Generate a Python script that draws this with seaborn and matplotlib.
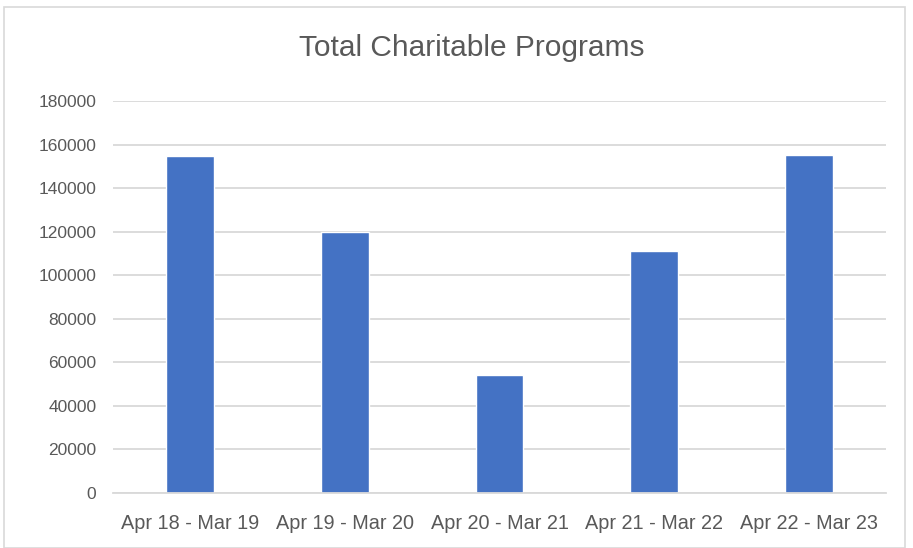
import seaborn as sns
import matplotlib.pyplot as plt
import pandas as pd

periods = ["Apr 18 - Mar 19", "Apr 19 - Mar 20", "Apr 20 - Mar 21",
           "Apr 21 - Mar 22", "Apr 22 - Mar 23"]
totals = [154600, 119800, 54300, 111000, 155100]
y_ticks = [0, 20000, 40000, 60000, 80000, 100000, 120000, 140000, 160000, 180000]

df = pd.DataFrame({"period": periods, "total": totals})

sns.set_style("white")
plt.rcParams['font.family'] = ['Liberation Sans', 'DejaVu Sans']

fig = plt.figure(figsize=(9.13, 5.48), dpi=100)
ax = fig.add_axes([113 / 913, 1 - 493 / 548, (886 - 113) / 913, (493 - 101) / 548])

ax.grid(axis='y', color='#d9d9d9', linewidth=1.3, zorder=0)
ax.set_axisbelow(True)

sns.barplot(data=df, x="period", y="total", color="#4472C4", saturation=1,
            width=0.31, ax=ax, zorder=2)

ax.set_ylim(0, 180000)
ax.set_yticks(y_ticks)
ax.set_yticklabels([str(t) for t in y_ticks], fontsize=12.5, color='#595959')
ax.tick_params(axis='x', labelsize=14.3, labelcolor='#595959', length=0, pad=15)
ax.tick_params(axis='y', length=0, pad=12)
ax.set_xlabel("")
ax.set_ylabel("")
for s in ["top", "right", "left"]:
    ax.spines[s].set_visible(False)
ax.spines["bottom"].set_color('#d9d9d9')
ax.spines["bottom"].set_linewidth(1.3)

fig.text(472 / 913, 1 - 48 / 548, "Total Charitable Programs", ha='center', va='center',
         fontsize=21.5, color='#595959')

fig.add_artist(plt.Rectangle((4 / 913, 0), 901 / 913, 1 - 7 / 548, transform=fig.transFigure,
                             fill=False, edgecolor='#d9d9d9', linewidth=1.2))

fig.savefig("out.png", dpi=100)
